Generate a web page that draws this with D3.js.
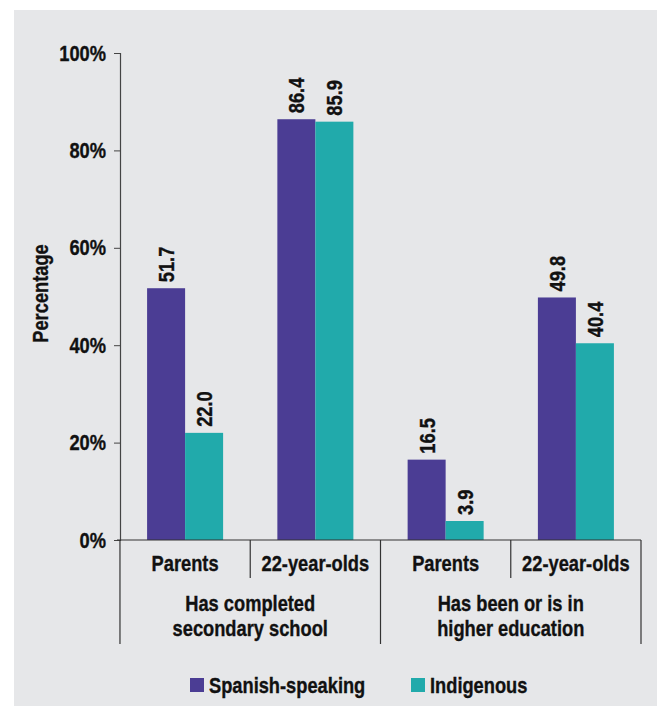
<!DOCTYPE html>
<html>
<head>
<meta charset="utf-8">
<script src="https://cdn.jsdelivr.net/npm/d3@7"></script>
<style>
  body { margin: 0; background: #ffffff; }
  text { font-family: "Liberation Sans", Arial, sans-serif; font-weight: bold; fill: #111; stroke: #111; stroke-width: 0.35px; }
</style>
</head>
<body>
<div id="chart"></div>
<script>
// data
var groups = ["Has completed secondary school", "Has been or is in higher education"];
var groupLines = [["Has completed", "secondary school"], ["Has been or is in", "higher education"]];
var subgroups = ["Parents", "22-year-olds"];
var seriesNames = ["Spanish-speaking", "Indigenous"];
var spanishValues = [51.7, 86.4, 16.5, 49.8];
var indigenousValues = [22.0, 85.9, 3.9, 40.4];
var yTicks = [0, 20, 40, 60, 80, 100];
var colors = ["#4b3d94", "#21aaab"];

var W = 657, H = 706;
var margin = { top: 53, left: 120, right: 16, bottom: 166 };
var plotW = W - margin.left - margin.right,
    plotH = H - margin.top - margin.bottom;
var fs = "22px";

// the original uses a condensed bold face; squeeze Liberation Sans to match
function narrow(sel) {
    sel.each(function () {
        var len = this.getComputedTextLength();
        d3.select(this)
            .attr("textLength", len * 0.83)
            .attr("lengthAdjust", "spacingAndGlyphs");
    });
}

var svg = d3.select("#chart")
    .append("svg")
    .attr("width", W)
    .attr("height", H);

// grey panel
svg.append("rect")
    .attr("x", 14).attr("y", 10)
    .attr("width", W - 14).attr("height", H - 10)
    .attr("fill", "#e6e7e9");

var g = svg.append("g")
    .attr("transform", "translate(" + margin.left + "," + margin.top + ")");

// one band per (group, subgroup)
var cats = [];
groups.forEach(function (gr, gi) {
    subgroups.forEach(function (sg, si) {
        cats.push({ group: gi, sub: sg, key: gi + "-" + si });
    });
});

var x = d3.scaleBand()
    .domain(cats.map(function (d) { return d.key; }))
    .range([0, plotW])
    .paddingInner(0.4165)
    .paddingOuter(0.208);

var xs = d3.scaleBand()
    .domain(seriesNames)
    .range([0, x.bandwidth()]);

var y = d3.scaleLinear()
    .domain([0, 100])
    .range([plotH, 0]);

// y axis
var yAxis = g.append("g")
    .call(d3.axisLeft(y).tickValues(yTicks).tickSize(6).tickPadding(8)
        .tickFormat(function (d) { return d + "%"; }));
yAxis.select(".domain").attr("stroke", "#444").attr("stroke-width", 1.2);
yAxis.selectAll(".tick line").attr("stroke", "#444");
yAxis.selectAll("text")
    .style("font-size", fs)
    .attr("fill", "#111")
    .call(narrow);

g.append("text")
    .attr("transform", "translate(" + (-72) + "," + (plotH / 2 - 3) + ") rotate(-90)")
    .attr("text-anchor", "middle")
    .style("font-size", fs)
    .text("Percentage")
    .call(narrow);

// bars
var rows = cats.map(function (c, i) {
    return { key: c.key, vals: [spanishValues[i], indigenousValues[i]] };
});

var bars = g.selectAll(".cat")
    .data(rows)
    .enter().append("g")
    .attr("transform", function (d) { return "translate(" + x(d.key) + ",0)"; });

bars.selectAll("rect")
    .data(function (d) { return d.vals.map(function (v, i) { return { s: seriesNames[i], v: v, i: i }; }); })
    .enter().append("rect")
    .attr("x", function (d) { return xs(d.s); })
    .attr("width", xs.bandwidth())
    .attr("y", function (d) { return y(d.v); })
    .attr("height", function (d) { return plotH - y(d.v); })
    .attr("fill", function (d) { return colors[d.i]; });

bars.selectAll(".lbl")
    .data(function (d) { return d.vals.map(function (v, i) { return { s: seriesNames[i], v: v }; }); })
    .enter().append("text")
    .attr("class", "lbl")
    .attr("transform", function (d) {
        return "translate(" + (xs(d.s) + xs.bandwidth() / 2 + 8) + "," + (y(d.v) - 6) + ") rotate(-90)";
    })
    .style("font-size", fs)
    .text(function (d) { return d.v.toFixed(1); })
    .call(narrow);

// x axis: baseline and category dividers
var lineCol = "#333";
g.append("line")
    .attr("x1", -3).attr("x2", plotW)
    .attr("y1", plotH).attr("y2", plotH)
    .attr("stroke", lineCol).attr("stroke-width", 1.2);

var bounds = cats.map(function (c) { return x(c.key) - x.paddingInner() * x.step() / 2; });
bounds.push(plotW);
bounds.forEach(function (b, i) {
    var long = (i % 2 === 0);
    g.append("line")
        .attr("x1", b).attr("x2", b)
        .attr("y1", plotH).attr("y2", plotH + (long ? 104 : 38))
        .attr("stroke", lineCol).attr("stroke-width", 1.2);
});

g.selectAll(".sublbl")
    .data(cats)
    .enter().append("text")
    .attr("x", function (d) { return x(d.key) + x.bandwidth() / 2; })
    .attr("y", plotH + 31)
    .attr("text-anchor", "middle")
    .style("font-size", fs)
    .text(function (d) { return d.sub; })
    .call(narrow);

groupLines.forEach(function (lines, gi) {
    var cx = (bounds[gi * 2] + bounds[gi * 2 + 2]) / 2;
    lines.forEach(function (ln, li) {
        g.append("text")
            .attr("x", cx)
            .attr("y", plotH + 71 + li * 25)
            .attr("text-anchor", "middle")
            .style("font-size", fs)
            .text(ln)
            .call(narrow);
    });
});

// legend
var legend = svg.append("g").attr("transform", "translate(190,678)");
var lx = [0, 221];
seriesNames.forEach(function (s, i) {
    legend.append("rect")
        .attr("x", lx[i]).attr("y", 0)
        .attr("width", 14).attr("height", 14)
        .attr("fill", colors[i]);
    legend.append("text")
        .attr("x", lx[i] + 19).attr("y", 15)
        .style("font-size", fs)
        .text(s)
        .call(narrow);
});
</script>
</body>
</html>
